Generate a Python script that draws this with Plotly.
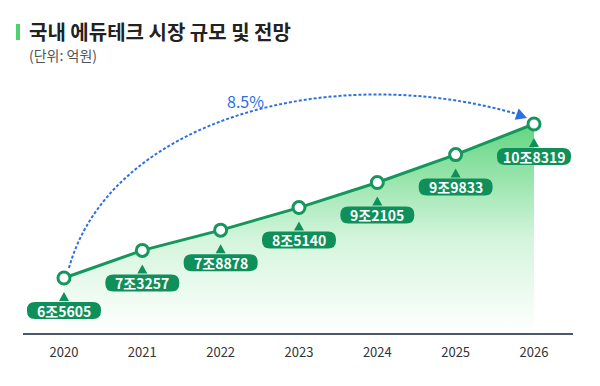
import plotly.graph_objects as go

years = [2020, 2021, 2022, 2023, 2024, 2025, 2026]
values = [65605, 73257, 78878, 85140, 92105, 99833, 108319]  # 억원
growth_label = "8.5%"
title = "국내 에듀테크 시장 규모 및 전망"
subtitle = "(단위: 억원)"

LINE = "#14975c"
PILL = "#0f8f5a"
BLUE = "#2c6fe2"
FONT = "Noto Sans CJK KR"

W, H = 600, 386
ML, MR, MT, MB = 23, 27, 60, 53
plot_h = H - MT - MB
plot_w = W - ML - MR
YR = [50349, 126072]
XR = [2019.477, 2026.498]


def fmt(v):
    return f"{v // 10000}조{v % 10000}"


fig = go.Figure()
fig.add_trace(go.Scatter(
    x=years, y=values, mode="lines+markers",
    line=dict(color=LINE, width=3),
    marker=dict(size=12, color="white", line=dict(color=LINE, width=3)),
    fill="tozeroy",
    fillgradient=dict(type="vertical", start=YR[0], stop=values[-1],
                      colorscale=[[0, "rgba(255,255,255,1)"], [0.45, "#d4f5dc"], [1, "#62d581"]]),
    cliponaxis=False, hoverinfo="skip", showlegend=False,
))

shapes = []
annotations = []

# pill labels under each point
top, bot, lft, rgt, r = -24, -41, -37, 37, 8
pill = (f"M {lft+r},{top} L {rgt-r},{top} Q {rgt},{top} {rgt},{top-r} "
        f"L {rgt},{bot+r} Q {rgt},{bot} {rgt-r},{bot} L {lft+r},{bot} "
        f"Q {lft},{bot} {lft},{bot+r} L {lft},{top-r} Q {lft},{top} {lft+r},{top} Z "
        f"M -5,{top+1} L 0,-14 L 5,{top+1} Z")
for x, v in zip(years, values):
    shapes.append(dict(type="path", xref="x", yref="y", xsizemode="pixel", ysizemode="pixel",
                       xanchor=x, yanchor=v, path=pill, fillcolor=PILL, line=dict(width=0),
                       layer="above"))
    annotations.append(dict(x=x, y=v, xref="x", yref="y", text=fmt(v), showarrow=False,
                            yshift=-32.5, font=dict(family=FONT, size=14, color="white", weight="bold")))

# dotted growth arc (anchored to first point, pixel offsets)
shapes.append(dict(type="path", xref="x", yref="y", xsizemode="pixel", ysizemode="pixel",
                   xanchor=years[0], yanchor=values[0],
                   path="M 5,10 C 46,158 266,218 453,164",
                   line=dict(color=BLUE, width=2, dash="3px,2px")))
# arrow head (anchored to last point)
shapes.append(dict(type="path", xref="x", yref="y", xsizemode="pixel", ysizemode="pixel",
                   xanchor=years[-1], yanchor=values[-1],
                   path="M -7,6 L -15.3,15.4 L -19.3,4.2 Z",
                   fillcolor=BLUE, line=dict(width=0)))
annotations.append(dict(x=years[0], y=values[0], xref="x", yref="y", text=growth_label,
                        showarrow=False, xshift=182, yshift=177,
                        font=dict(family=FONT, size=16, color=BLUE)))

# title block
def px_x(p):
    return (p - ML) / plot_w


def px_y(p):
    return (H - MB - p) / plot_h


shapes.append(dict(type="rect", xref="paper", yref="paper",
                   x0=px_x(16), x1=px_x(20), y0=px_y(40), y1=px_y(24),
                   fillcolor="#4fd16e", line=dict(width=0)))
annotations.append(dict(x=px_x(27), y=px_y(32), xref="paper", yref="paper", text=title,
                        showarrow=False, xanchor="left", yanchor="middle",
                        font=dict(family=FONT, size=20, color="#222222", weight="bold")))
annotations.append(dict(x=px_x(27), y=px_y(55), xref="paper", yref="paper", text=subtitle,
                        showarrow=False, xanchor="left", yanchor="middle",
                        font=dict(family=FONT, size=14, color="#555555")))

fig.update_layout(
    width=W, height=H, margin=dict(l=ML, r=MR, t=MT, b=MB),
    paper_bgcolor="white", plot_bgcolor="white",
    shapes=shapes, annotations=annotations, showlegend=False,
    xaxis=dict(range=XR, tickvals=years, ticktext=[str(y) for y in years],
               showgrid=False, zeroline=False, showline=True, linecolor="#4b5870", linewidth=2,
               ticks="", ticklabelstandoff=6,
               tickfont=dict(family=FONT, size=13, color="#333333"), fixedrange=True),
    yaxis=dict(range=YR, visible=False, showgrid=False, zeroline=False, fixedrange=True),
)

fig.write_html("out.html", config={"displayModeBar": False, "staticPlot": True})
with open("out.html", encoding="utf-8") as f:
    html = f.read()
html = html.replace("<body>", '<body style="margin:0;padding:0;">', 1)
with open("out.html", "w", encoding="utf-8") as f:
    f.write(html)
